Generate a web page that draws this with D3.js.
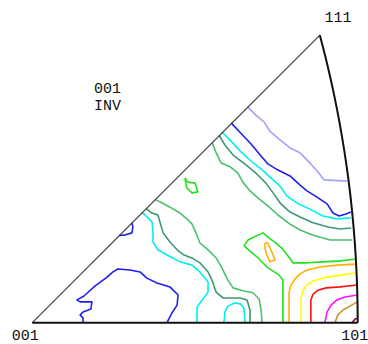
<!DOCTYPE html>
<html>
<head>
<meta charset="utf-8">
<script src="https://cdnjs.cloudflare.com/ajax/libs/d3/7.8.5/d3.min.js"></script>
<style>
  html, body { margin: 0; padding: 0; background: #fff; }
  svg { display: block; }
</style>
</head>
<body>
<svg id="ipf" width="368" height="344"></svg>
<script>
// inverse pole figure, 001 INV
// contour coordinates are in % of the 001-101 distance (stereographic)

const poles = [
  { label: "001", u: 0, v: 0 },
  { label: "101", u: 100, v: 0 },
  { label: "111", u: 88.4, v: 88.4 }
];

const lavender = [[66.1,66.4],[68.7,63.8],[71.2,61.7],[73.0,58.9],[76.1,56.2],[79.2,53.7],[82.3,52.2],[85.3,49.1],[87.8,46.3],[89.6,43.9],[96.8,43.5]];
const blueTop = [[61.1,61.4],[64.4,57.9],[67.5,54.6],[69.7,51.9],[72.4,48.8],[75.5,46.9],[79.2,45.1],[82.3,42.3],[84.4,40.5],[87.5,38.6],[90.6,36.5],[92.4,33.7],[94.3,32.8],[96.4,33.4],[97.9,34.0]];
const cyanTop = [[58.3,58.6],[61.4,55.5],[63.8,52.8],[66.9,50.0],[70.0,47.5],[73.0,44.8],[76.1,42.0],[78.3,38.9],[81.3,36.8],[85.3,34.9],[89.3,32.8],[93.6,31.9],[97.8,32.2]];
const seaTop = [[57.4,57.6],[59.2,54.6],[61.7,51.5],[65.7,48.5],[68.7,46.0],[71.8,42.9],[74.0,39.9],[76.4,36.5],[79.2,34.0],[82.3,32.5],[86.3,30.7],[90.9,29.4],[94.6,28.8],[98.0,29.1]];
const greenTop = [[55.2,55.5],[56.4,52.5],[58.0,49.1],[60.8,47.9],[63.2,46.0],[64.7,43.2],[66.9,40.5],[69.4,38.3],[72.4,35.9],[75.5,33.1],[79.2,30.3],[82.3,28.5],[86.3,26.9],[91.5,25.4],[98.3,25.4]];
const limeIsland = [[46.9,44.5],[47.8,43.2],[50.0,42.9],[50.9,40.2],[49.1,39.9],[47.5,41.4],[47.2,42.9],[46.9,44.5]];

const greenLow = [[37.7,37.9],[39.9,36.8],[42.3,35.5],[45.4,33.7],[47.5,31.9],[49.1,30.3],[50.3,27.6],[51.5,24.5],[54.0,22.4],[56.5,19.9],[58.3,16.8],[60.1,13.1],[61.7,10.7],[64.7,9.8],[67.8,9.2],[69.7,7.3],[70.3,3.9],[70.6,0]];
const seaLow = [[34.9,35.1],[36.8,33.7],[38.6,33.1],[39.5,30.0],[40.2,27.6],[42.3,24.8],[44.5,22.4],[46.6,20.8],[49.1,19.9],[51.5,18.4],[54.0,15.6],[55.2,13.1],[56.5,9.4],[58.6,7.6],[63.8,7.6],[66.0,7.0],[66.9,3.9],[66.9,0]];
const cyanLow = [[33.7,33.9],[35.6,32.2],[36.8,30.9],[37.1,27.9],[37.1,24.8],[38.6,22.4],[41.4,20.8],[45.4,18.7],[49.1,17.7],[51.5,15.6],[54.0,12.5],[54.0,9.4],[52.2,7.0],[50.6,4.8],[50.6,0]];
const cyanSmall = [[58.9,0],[59.2,3.3],[60.1,5.1],[62.3,6.1],[64.1,5.7],[65.0,4.5],[65.4,0]];
const blueLow = [[15.6,0],[15.6,1.4],[14.7,2.4],[15.6,3.3],[18.0,4.2],[18.3,6.4],[14.7,6.4],[13.7,7.0],[15.9,8.2],[19.3,11.3],[22.6,13.7],[24.8,15.6],[26.3,16.5],[30.0,16.2],[33.1,15.6],[35.2,13.7],[38.3,12.2],[42.3,11.0],[44.8,8.5],[44.5,5.4],[42.9,3.0],[41.4,0]];
const blueNotch = [[26.6,26.8],[28.2,26.9],[30.6,27.6],[30.9,29.4],[30.6,30.8]];

const lime = [[77.0,0],[77.0,13.1],[75.8,14.7],[72.1,17.1],[69.4,19.9],[66.9,22.0],[65.1,23.6],[66.3,25.4],[68.7,26.6],[70.9,27.6],[72.4,26.3],[74.8,24.5],[77.0,22.6],[78.6,20.5],[80.1,18.4],[84.4,18.4],[89.6,18.7],[94.6,19.0],[99.5,19.6]];
const orangeIsland = [[71.5,24.5],[72.4,24.5],[73.7,21.5],[74.6,19.3],[73.0,18.7],[72.1,20.8],[71.5,23.0],[71.5,24.5]];
const orange = [[78.9,0],[78.9,9.4],[79.5,11.6],[80.7,13.4],[82.3,15.0],[84.4,16.2],[88.4,17.1],[93.6,17.7],[99.7,18.0]];
const yellow = [[82.6,0],[82.6,7.6],[83.2,10.0],[84.4,11.6],[86.3,12.8],[90.6,14.0],[95.5,14.7],[99.8,15.3]];
const red = [[85.6,0],[85.6,7.0],[86.3,8.8],[87.8,10.0],[90.3,10.7],[94.6,11.0],[97.0,11.3],[99.8,11.6]];
const magenta = [[89.9,0],[90.6,3.3],[91.8,5.4],[93.6,7.0],[96.1,7.9],[99.9,8.5]];
const tan = [[93.0,0],[93.9,2.4],[95.5,3.9],[97.6,5.1],[99.9,6.4]];
const plum = [[98.2,0],[99.2,1.1],[100,1.4]];

const contours = [
  { pts: lavender, color: "#a4a4f6" },
  { pts: blueTop, color: "#1f1fee" },
  { pts: cyanTop, color: "#00f0f0" },
  { pts: seaTop, color: "#3d9970" },
  { pts: greenTop, color: "#4cc070" },
  { pts: limeIsland, color: "#22e022" },
  { pts: greenLow, color: "#4cc070" },
  { pts: seaLow, color: "#3d9970" },
  { pts: cyanLow, color: "#00f0f0" },
  { pts: cyanSmall, color: "#00f0f0" },
  { pts: blueLow, color: "#1f1fee" },
  { pts: blueNotch, color: "#1f1fee" },
  { pts: lime, color: "#22e022" },
  { pts: orangeIsland, color: "#ffb000" },
  { pts: orange, color: "#ffb000" },
  { pts: yellow, color: "#ffff00" },
  { pts: red, color: "#ff1010" },
  { pts: magenta, color: "#ff10ff" },
  { pts: tan, color: "#c8962a" },
  { pts: plum, color: "#990066" }
];

const svg = d3.select("#ipf");
const x = d3.scaleLinear().domain([0, 100]).range([32.3, 357.7]);
const y = d3.scaleLinear().domain([0, 100]).range([322.7, -2.7]);

const line = d3.line().x(d => x(d[0])).y(d => y(d[1]));

svg.append("g")
  .selectAll("path")
  .data(contours)
  .join("path")
  .attr("d", d => line(d.pts))
  .attr("fill", "none")
  .attr("stroke", d => d.color)
  .attr("stroke-width", 1.6)
  .attr("stroke-linejoin", "round");

// great circle 101 -> 111, directions (1,t,1)
const edge101 = 1 / (Math.SQRT2 + 1);
const arc = d3.range(0, 1.0001, 0.05).map(t => {
  const s = Math.sqrt(2 + t * t) + 1;
  return [100 / s / edge101, 100 * t / s / edge101];
});

svg.append("path")
  .attr("d", line([[0, 0], [88.4, 88.4]]))
  .attr("fill", "none")
  .attr("stroke", "#333")
  .attr("stroke-width", 1.1);

svg.append("path")
  .attr("d", line([[0, 0], [100, 0]]))
  .attr("fill", "none")
  .attr("stroke", "#111")
  .attr("stroke-width", 2);

svg.append("path")
  .attr("d", line(arc))
  .attr("fill", "none")
  .attr("stroke", "#111")
  .attr("stroke-width", 2);

const labelOffset = { "001": [-7, 17], "101": [-3, 17], "111": [18, -13] };

svg.append("g")
  .selectAll("text")
  .data(poles)
  .join("text")
  .attr("x", d => x(d.u) + labelOffset[d.label][0])
  .attr("y", d => y(d.v) + labelOffset[d.label][1])
  .attr("text-anchor", "middle")
  .style("font-family", "'Liberation Mono', monospace")
  .style("font-size", "15px")
  .attr("fill", "#111")
  .text(d => d.label);

svg.append("text")
  .attr("x", 94)
  .attr("y", 93)
  .style("font-family", "'Liberation Mono', monospace")
  .style("font-size", "15px")
  .attr("fill", "#111")
  .text("001");

svg.append("text")
  .attr("x", 94)
  .attr("y", 110)
  .style("font-family", "'Liberation Mono', monospace")
  .style("font-size", "15px")
  .attr("fill", "#111")
  .text("INV");
</script>
</body>
</html>
